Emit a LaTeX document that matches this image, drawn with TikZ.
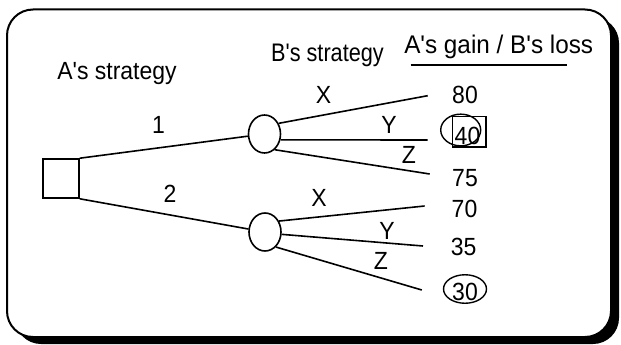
\documentclass[tikz,border=0pt]{standalone}
\usepackage{fontspec}
\setmainfont{Liberation Sans}[Ligatures=TeXOff]
\usetikzlibrary{shapes.geometric}
\newcommand{\tallt}[2][1.08]{\scalebox{1}[#1]{#2}}
\begin{document}
\begin{tikzpicture}[x=1pt,y=-1pt,
  lbl/.style={inner sep=0pt,anchor=base,font=\fontsize{23}{27}\selectfont},
  branch/.style={line width=1.6pt},
  chance/.style={ellipse,draw,line width=1.6pt,minimum width=32pt,minimum height=38pt,inner sep=0pt},
  ringmark/.style={draw,line width=1.4pt,inner sep=0pt}]
\useasboundingbox (0,0) rectangle (621,345);
% frame with shadow
\fill[black,rounded corners=26pt] (15,17) rectangle (619,344);
\draw[fill=white,line width=2pt,rounded corners=26pt] (7,9.5) rectangle (611,337);
% decision node
\node[draw,line width=1.6pt,minimum width=36pt,minimum height=39pt,inner sep=0pt] (root) at (61,178.5) {};
\node[chance] (c1) at (264.5,134) {};
\node[chance] (c2) at (265,232) {};
% main branches
\draw[branch] (root.north east) -- (c1);
\draw[branch] (root.south east) -- (c2);
% end points
\coordinate (e1x) at (427.7,95.7);
\coordinate (e1y) at (427.7,140);
\coordinate (e1z) at (429.7,174);
\coordinate (e2x) at (424.6,206);
\coordinate (e2y) at (423,246);
\coordinate (e2z) at (421.8,290);
\draw[branch] (c1.37) -- (e1x);
\draw[branch] (c1.-20) -- (e1y);
\draw[branch] (c1.-57) -- (e1z);
\draw[branch] (c2.38) -- (e2x);
\draw[branch] (c2.-8) -- (e2y);
\draw[branch] (c2.-54) -- (e2z);
% headers
\node[lbl] (ha) at (117,79.3) {\tallt{A's strategy}};
\node[lbl,font=\fontsize{21.7}{26}\selectfont] (hb) at (327.5,61.7) {\tallt[1.17]{B's strategy}};
\node[lbl,font=\fontsize{24.3}{29}\selectfont] (hc) at (498.7,53.3) {\tallt[1.05]{A's gain / B's loss}};
\coordinate (ul1) at (410.7,65.3);
\coordinate (ul2) at (567.3,65.3);
\draw[line width=1.6pt] (ul1) -- (ul2);
% branch labels
\node[lbl] (l1) at (158.4,133) {\tallt{1}};
\node[lbl] (l2) at (170,202) {\tallt{2}};
\node[lbl] (x1) at (323.5,103.3) {\tallt{X}};
\node[lbl] (y1) at (389,133.3) {\tallt{Y}};
\node[lbl] (z1) at (409,163.5) {\tallt{Z}};
\node[lbl] (x2) at (319,206.5) {\tallt{X}};
\node[lbl] (y2) at (387,239) {\tallt{Y}};
\node[lbl] (z2) at (381,269) {\tallt{Z}};
% payoffs
\node[lbl] (p80) at (465,103.3) {\tallt{80}};
\node[lbl] (p40) at (467.5,144.5) {\tallt{40}};
\node[lbl] (p75) at (465,186) {\tallt{75}};
\node[lbl] (p70) at (464.5,217) {\tallt{70}};
\node[lbl] (p35) at (463.7,255) {\tallt{35}};
\node[lbl] (p30) at (465,300) {\tallt{30}};
% marks
\node[ringmark,ellipse,minimum width=40pt,minimum height=31.7pt] (m40c) at (460.7,130) {};
\node[ringmark,rectangle,minimum width=33.3pt,minimum height=30.3pt] (m40r) at (469.3,131.8) {};
\node[ringmark,ellipse,minimum width=43pt,minimum height=28.5pt] (m30c) at (465,289) {};
\end{tikzpicture}
\end{document}
